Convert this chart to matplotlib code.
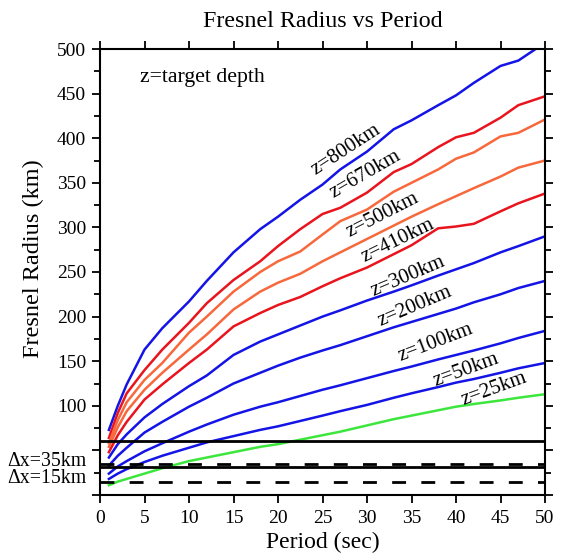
import matplotlib
matplotlib.use('Agg')
import matplotlib.pyplot as plt
import matplotlib.transforms as mtransforms
from matplotlib.ticker import MultipleLocator

periods = [1, 2, 3, 5, 7, 10, 12, 15, 18, 20, 22.5, 25, 27, 30, 33, 35, 38, 40, 42, 45, 47, 50]

# Fresnel-Radius (km) je Zieltiefe
r_800 = [73, 100, 124, 163, 187, 217, 240, 272, 298, 312, 331, 348, 365, 385, 410, 420, 437, 448, 462, 481, 487, 507]
r_670 = [64, 92, 114, 140, 163, 193, 215, 241, 262, 279, 298, 315, 322, 339, 362, 371, 390, 401, 406, 423, 437, 447]
r_500 = [58, 84, 104, 129, 148, 182, 200, 228, 250, 262, 273, 292, 307, 320, 340, 350, 365, 377, 384, 402, 406, 421]
r_410 = [54, 76, 94, 118, 137, 163, 180, 208, 228, 238, 248, 262, 272, 287, 302, 312, 326, 335, 344, 357, 367, 375]
r_300 = [48, 67, 82, 107, 124, 148, 163, 189, 204, 213, 222, 234, 243, 255, 270, 280, 299, 301, 304, 318, 327, 338]
r_200 = [42, 57, 68, 87, 102, 122, 134, 157, 172, 180, 190, 200, 207, 218, 228, 235, 246, 253, 260, 272, 279, 290]
r_100 = [33, 44, 53, 70, 82, 99, 109, 125, 137, 145, 154, 162, 168, 178, 188, 194, 203, 209, 216, 225, 232, 240]
r_50 = [24, 32, 38, 49, 58, 71, 79, 90, 99, 104, 111, 118, 123, 131, 139, 144, 152, 157, 162, 170, 176, 184]
r_25 = [18, 24, 29, 37, 44, 53, 59, 66, 73, 77, 83, 89, 94, 101, 109, 114, 121, 126, 130, 137, 142, 148]
r_low = [11, 15, 18, 24, 30, 38, 42, 48, 54, 57, 62, 67, 71, 78, 85, 89, 95, 99, 102, 106, 109, 113]

curve_labels = ["z=800km", "z=670km", "z=500km", "z=410km", "z=300km",
                "z=200km", "z=100km", "z=50km", "z=25km"]

# Gitterauflösung
dx_values = [35, 15]
solid_levels = [60, 31.5]

plt.rcParams['font.family'] = ['Liberation Serif', 'DejaVu Serif']
plt.rcParams['lines.scale_dashes'] = False

fig = plt.figure(figsize=(5.62, 5.6), dpi=100)
ax = fig.add_axes([100 / 562, 65 / 560, 445 / 562, 446 / 560])

blue = '#1414e6'
red = '#e8141e'
orange = '#f7683c'
green = '#3ce63c'

curves = [r_800, r_670, r_500, r_410, r_300, r_200, r_100, r_50, r_25, r_low]
colors = [blue, red, orange, orange, red, blue, blue, blue, blue, green]
for vals, c in zip(curves, colors):
    ax.plot(periods, vals, color=c, lw=1.8, zorder=2)

# Beschriftungen der Kurven (Position, Winkel)
label_pos = [(27.6, 387, 33), (29.8, 359, 30), (31.8, 314, 27), (33.5, 285, 26),
             (34.6, 245, 23), (35.4, 211, 23), (37.7, 171, 21), (41.1, 140, 20),
             (44.3, 119, 20)]
for txt, (x, y, rot) in zip(curve_labels, label_pos):
    ax.text(x, y, txt, rotation=rot, ha='center', va='center',
            rotation_mode='anchor', fontsize=15, zorder=3)

# horizontale Linien
for lvl in solid_levels:
    ax.axhline(lvl, color='black', lw=2.0, zorder=4)
for dx in dx_values:
    ax.axhline(dx, color='black', lw=2.0, dashes=(10, 11), zorder=4)

trans = mtransforms.blended_transform_factory(ax.transAxes, ax.transData)
for dx in dx_values:
    ax.text(-0.03, dx + 3, '\u0394x=%dkm' % dx, transform=trans, ha='right',
            va='center', fontsize=14.3, clip_on=False)

ax.text(0.23, 0.935, 'z=target depth', transform=ax.transAxes, ha='center',
        va='center', fontsize=15.7)

ax.set_xlim(0, 50)
ax.set_ylim(0, 500)
ax.xaxis.set_major_locator(MultipleLocator(5))
ax.yaxis.set_minor_locator(MultipleLocator(25))
ax.set_yticks([0, 50, 100, 150, 200, 250, 300, 350, 400, 450, 500])
ax.set_yticklabels(['', '', '100', '150', '200', '250', '300', '350', '400', '450', '500'])

ax.tick_params(which='both', direction='out', top=True, right=True,
               labelsize=14, width=1.3)
ax.tick_params(which='major', length=6)
ax.tick_params(which='minor', length=4)
ax.tick_params(axis='x', pad=5)
ax.tick_params(axis='y', pad=4)
for sp in ax.spines.values():
    sp.set_linewidth(1.5)

ax.set_xlabel('Period (sec)', fontsize=17, labelpad=3)
ax.set_ylabel('Fresnel Radius (km)', fontsize=17.5)
ax.yaxis.set_label_coords(-0.125, 0.53)
ax.set_title('Fresnel Radius vs Period', fontsize=17.3, pad=16)

fig.savefig('out.png', dpi=100)
